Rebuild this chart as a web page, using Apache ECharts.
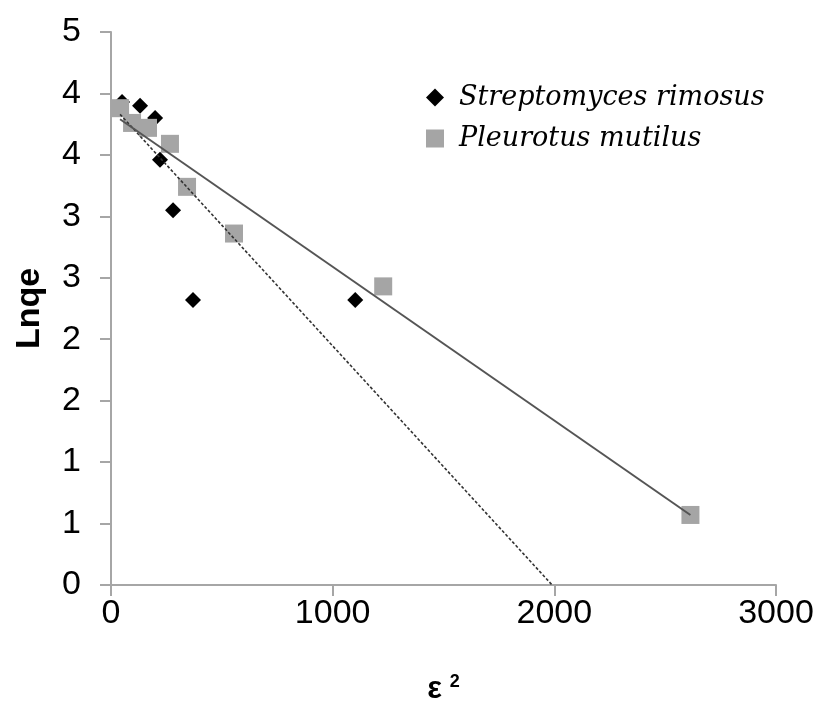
<!DOCTYPE html>
<html>
<head>
<meta charset="utf-8">
<script src="https://cdn.jsdelivr.net/npm/echarts@6/dist/echarts.min.js"></script>
<style>html,body{margin:0;padding:0;background:#fff;}#c{width:826px;height:707px;}</style>
</head>
<body>
<div id="c"></div>
<script>
// Series values (x = ε², y = Lnqe)
const strepX = [50, 131, 199, 221, 280, 370, 1102];
const strepY = [3.93, 3.90, 3.80, 3.46, 3.05, 2.32, 2.32];
const pleurX = [41, 95, 167, 266, 343, 555, 1228, 2614];
const pleurY = [3.88, 3.76, 3.72, 3.59, 3.24, 2.86, 2.43, 0.57];
// Trend line end points
const strepTrendX = [41, 1990];
const strepTrendY = [3.83, 0];
const pleurTrendX = [41, 2614];
const pleurTrendY = [3.79, 0.57];
// Axis settings
const xTicks = [0, 1000, 2000, 3000];
const yMin = 0, yMax = 4.5, yStep = 0.5;
const seriesNames = ['Streptomyces rimosus', 'Pleurotus mutilus'];

const zip = (xs, ys) => xs.map((x, i) => [x, ys[i]]);
const axisGray = '#a6a6a6';
const sans = 'Liberation Sans, Arial, sans-serif';

const chart = echarts.init(document.getElementById('c'));
chart.setOption({
  animation: false,
  backgroundColor: '#fff',
  grid: { left: 111, right: 50, top: 32, bottom: 122, containLabel: false, outerBoundsMode: 'none' },
  legend: {
    orient: 'vertical', left: 421, top: 79,
    itemWidth: 18, itemHeight: 18, itemGap: 14,
    textStyle: { fontFamily: 'DejaVu Serif, Liberation Serif, serif', fontStyle: 'italic', fontSize: 27, color: '#000', padding: [0, 0, 0, 10] },
    data: [{ name: seriesNames[0], icon: 'diamond' }, { name: seriesNames[1], icon: 'rect' }]
  },
  xAxis: {
    type: 'value', min: xTicks[0], max: xTicks[xTicks.length - 1], interval: xTicks[1] - xTicks[0],
    splitLine: { show: false },
    axisLine: { lineStyle: { color: axisGray, width: 2 } },
    axisTick: { length: 11, lineStyle: { color: axisGray, width: 2 } },
    axisLabel: { fontFamily: sans, fontSize: 34, color: '#000', margin: 12, formatter: v => String(v) },
    name: '{e|ε}{s|2}', nameLocation: 'middle', nameGap: 88,
    nameTextStyle: {
      rich: {
        e: { fontFamily: sans, fontWeight: 'bold', fontSize: 31, color: '#000', verticalAlign: 'bottom' },
        s: { fontFamily: sans, fontWeight: 'bold', fontSize: 18, color: '#000', padding: [0, 0, 14, 8], verticalAlign: 'bottom' }
      }
    }
  },
  yAxis: {
    type: 'value', min: yMin, max: yMax, interval: yStep,
    splitLine: { show: false },
    axisLine: { onZero: false, lineStyle: { color: axisGray, width: 2 } },
    axisTick: { length: 11, lineStyle: { color: axisGray, width: 2 } },
    axisLabel: { fontFamily: sans, fontSize: 34, color: '#000', margin: 30, formatter: v => String(Math.round(v)) },
    name: 'Lnqe', nameLocation: 'middle', nameGap: 64, nameRotate: 90,
    nameTextStyle: { fontFamily: sans, fontWeight: 'bold', fontSize: 34, color: '#000' }
  },
  series: [
    { name: seriesNames[0], type: 'scatter', symbol: 'diamond', symbolSize: 16, z: 2,
      itemStyle: { color: '#000', opacity: 1 }, data: zip(strepX, strepY) },
    { name: seriesNames[1], type: 'scatter', symbol: 'rect', symbolSize: 18, z: 3,
      itemStyle: { color: '#a5a5a5', opacity: 1 }, data: zip(pleurX, pleurY) },
    { name: 'trendS', type: 'line', showSymbol: false, silent: true, z: 4,
      lineStyle: { color: '#333', width: 1.6, type: [3, 2] }, data: zip(strepTrendX, strepTrendY) },
    { name: 'trendP', type: 'line', showSymbol: false, silent: true, z: 4,
      lineStyle: { color: '#555', width: 2 }, data: zip(pleurTrendX, pleurTrendY) }
  ]
});
</script>
</body>
</html>
